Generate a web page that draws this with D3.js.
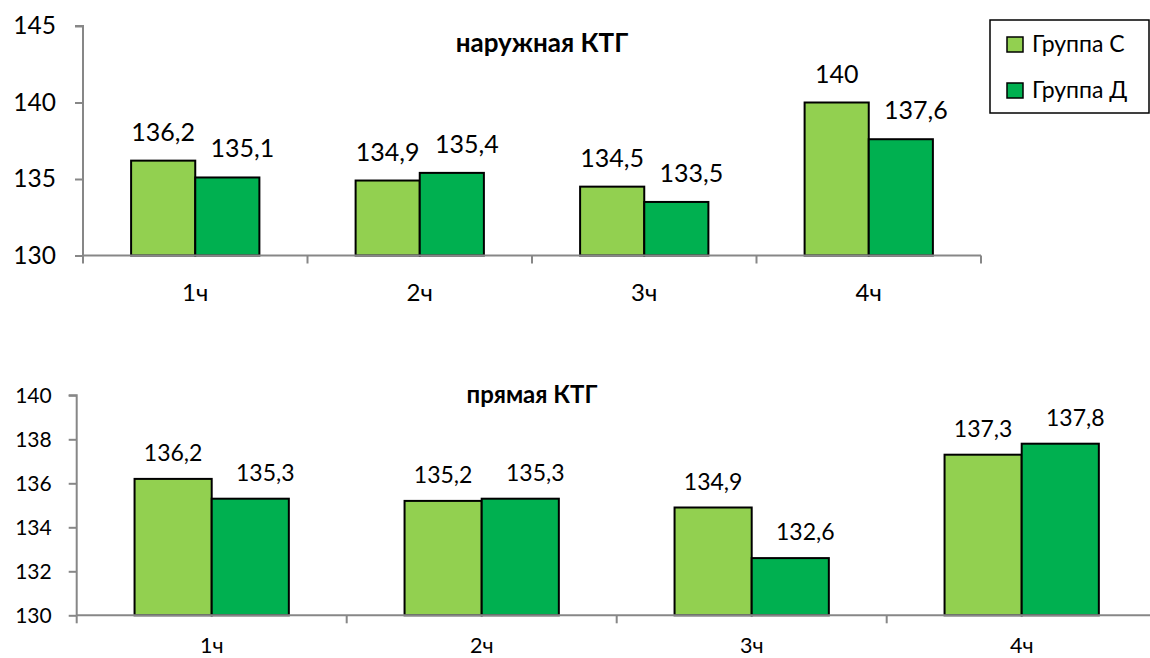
<!DOCTYPE html>
<html>
<head>
<meta charset="utf-8">
<script src="https://cdn.jsdelivr.net/npm/d3@7"></script>
<style>
  html, body { margin: 0; padding: 0; background: #fff; }
  svg { display: block; font-family: Lato, "Noto Sans", sans-serif; }
</style>
</head>
<body>
<svg id="chart" width="1150" height="658"></svg>
<script>
// Hours of observation
const categories = ["1ч", "2ч", "3ч", "4ч"];
const seriesNames = ["Группа С", "Группа Д"];
const seriesColors = ["#92D050", "#00B050"];

// Heart rate, external CTG
const externalC = [136.2, 134.9, 134.5, 140];
const externalD = [135.1, 135.4, 133.5, 137.6];
const externalTicks = [130, 135, 140, 145];

// Heart rate, direct CTG
const directC = [136.2, 135.2, 134.9, 137.3];
const directD = [135.3, 135.3, 132.6, 137.8];
const directTicks = [130, 132, 134, 136, 138, 140];

const svg = d3.select("#chart");
const fmt = d3.formatLocale({ decimal: ",", thousands: " ", grouping: [3], currency: ["", ""] }).format(".1~f");
const axisColor = "#878787";
// second-series labels sit slightly to the right so neighbours don't collide
const labelShift = [0, 15];

function drawPanel(cfg) {
  const g = svg.append("g");
  const x0 = d3.scaleBand().domain(categories).range([cfg.left, cfg.right]).padding(0);
  const x1 = d3.scaleBand().domain(seriesNames).range([0, x0.bandwidth()])
    .paddingInner(0).paddingOuter(0.75);
  const y = d3.scaleLinear().domain([cfg.ticks[0], cfg.ticks[cfg.ticks.length - 1]])
    .range([cfg.bottom, cfg.top]);

  // bars
  const rows = categories.map((c, i) => ({ c, vals: [cfg.c[i], cfg.d[i]] }));
  const grp = g.selectAll("g.cat").data(rows).join("g")
    .attr("transform", d => `translate(${x0(d.c)},0)`);
  grp.selectAll("rect").data(d => d.vals.map((v, k) => ({ v, k })))
    .join("rect")
    .attr("x", d => x1(seriesNames[d.k]))
    .attr("y", d => y(d.v))
    .attr("width", x1.bandwidth())
    .attr("height", d => y(cfg.ticks[0]) - y(d.v))
    .attr("fill", d => seriesColors[d.k])
    .attr("stroke", "#000")
    .attr("stroke-width", 2);

  // value labels
  grp.selectAll("text.val").data(d => d.vals.map((v, k) => ({ v, k })))
    .join("text")
    .attr("class", "val")
    .attr("x", d => x1(seriesNames[d.k]) + x1.bandwidth() / 2 + labelShift[d.k])
    .attr("y", d => y(d.v) - cfg.labelGap)
    .attr("text-anchor", "middle")
    .attr("font-size", cfg.labelSize)
    .attr("fill", "#000")
    .text(d => fmt(d.v));

  // y axis
  const ya = g.append("g").attr("transform", `translate(${cfg.left},0)`)
    .call(d3.axisLeft(y).tickValues(cfg.ticks).tickSize(8).tickPadding(cfg.tickPad).tickFormat(d3.format("d")));
  ya.select(".domain").attr("stroke", axisColor).attr("stroke-width", 2)
    .attr("d", `M-8,${cfg.top}H0V${cfg.bottom}`);
  ya.selectAll(".tick line").attr("stroke", axisColor).attr("stroke-width", 2);
  ya.selectAll(".tick text").attr("font-size", cfg.tickSize).attr("fill", "#000")
    .attr("font-family", "Lato, 'Noto Sans', sans-serif");

  // x axis line and category boundary ticks
  g.append("line")
    .attr("x1", cfg.left).attr("x2", cfg.right)
    .attr("y1", cfg.bottom).attr("y2", cfg.bottom)
    .attr("stroke", axisColor).attr("stroke-width", 2);
  const bounds = categories.map(c => x0(c)).concat([x0.range()[1]]);
  g.selectAll("line.bt").data(bounds).join("line")
    .attr("class", "bt")
    .attr("x1", d => d).attr("x2", d => d)
    .attr("y1", cfg.bottom).attr("y2", cfg.bottom + 8)
    .attr("stroke", axisColor).attr("stroke-width", 2);
  g.selectAll("text.cat").data(categories).join("text")
    .attr("class", "cat")
    .attr("x", d => x0(d) + x0.bandwidth() / 2)
    .attr("y", cfg.catY)
    .attr("text-anchor", "middle")
    .attr("font-size", cfg.catSize)
    .text(d => d);

  // title
  g.append("text")
    .attr("x", cfg.titleX).attr("y", cfg.titleY)
    .attr("text-anchor", "middle")
    .attr("font-size", cfg.titleSize)
    .attr("font-weight", "bold")
    .text(cfg.title);
}

drawPanel({
  title: "наружная КТГ", titleX: 542, titleY: 52, titleSize: 26,
  left: 83, right: 981, top: 26, bottom: 255.5,
  ticks: externalTicks, c: externalC, d: externalD,
  labelGap: 20, labelSize: 25, tickSize: 24.5, tickPad: 19,
  catY: 301, catSize: 24
});

drawPanel({
  title: "прямая КТГ", titleX: 532, titleY: 403, titleSize: 24,
  left: 76.7, right: 1156.7, top: 395.3, bottom: 615.3,
  ticks: directTicks, c: directC, d: directD,
  labelGap: 18, labelSize: 23, tickSize: 21, tickPad: 17,
  catY: 653, catSize: 21.5
});

// legend
const lg = svg.append("g");
lg.append("rect").attr("x", 990).attr("y", 20).attr("width", 159).attr("height", 93)
  .attr("fill", "#fff").attr("stroke", "#000").attr("stroke-width", 1.5);
const li = lg.selectAll("g.item").data(seriesNames).join("g")
  .attr("transform", (d, i) => `translate(1007,${37 + i * 46})`);
li.append("rect").attr("width", 16).attr("height", 15)
  .attr("fill", (d, i) => seriesColors[i]).attr("stroke", "#000").attr("stroke-width", 1.5);
li.append("text").attr("x", 25).attr("y", 15).attr("font-size", 23).text(d => d);
</script>
</body>
</html>
